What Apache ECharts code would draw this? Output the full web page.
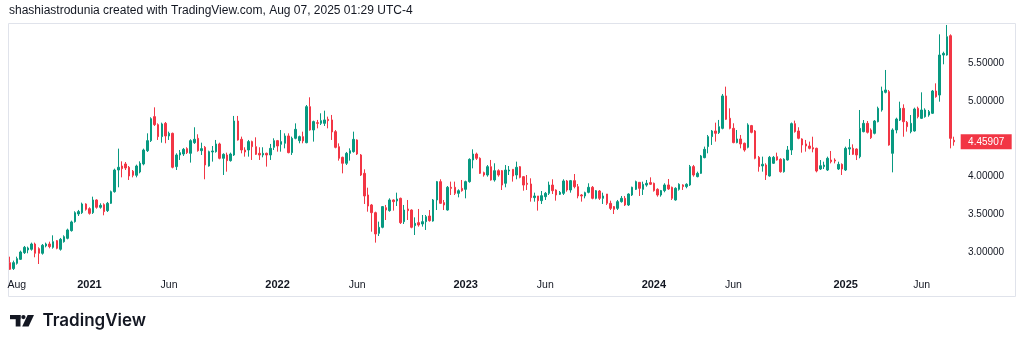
<!DOCTYPE html>
<html><head><meta charset="utf-8">
<script src="https://cdn.jsdelivr.net/npm/echarts@6/dist/echarts.min.js"></script>
<style>html,body{margin:0;padding:0;background:#fff}#c{width:1024px;height:348px}</style>
</head><body><div id="c"></div>
<script>
// Weekly candles, each [open, close, low, high]
const c2020 = [
[2.859,2.771,2.762,2.938],[2.780,2.859,2.762,2.886],[2.850,2.912,2.833,2.938],[2.903,3.000,2.894,3.018],
[2.991,3.062,2.974,3.080],[3.027,3.053,2.983,3.071],[3.036,3.106,3.018,3.124],[3.106,2.983,2.930,3.124],
[3.044,2.983,2.841,3.062],[2.983,3.089,2.965,3.106],[3.080,3.106,3.062,3.124],[3.106,3.071,3.049,3.137],
[3.062,3.137,3.044,3.221],[3.150,3.049,3.036,3.159],[3.036,3.168,3.018,3.186],[3.137,3.203,3.124,3.221],
[3.181,3.292,3.168,3.309],[3.283,3.398,3.270,3.415],[3.402,3.521,3.389,3.539],[3.504,3.535,3.477,3.557],
[3.521,3.636,3.504,3.654],[3.636,3.565,3.548,3.645]
];
const c2021 = [
[3.574,3.512,3.495,3.592],[3.521,3.689,3.504,3.733],[3.689,3.592,3.574,3.698],[3.592,3.618,3.574,3.645],
[3.627,3.535,3.486,3.645],[3.548,3.645,3.530,3.663],[3.645,3.799,3.636,3.813],[3.799,4.086,3.786,4.104],
[4.086,4.122,3.857,4.369],[4.139,4.104,3.989,4.201],[4.166,4.113,4.086,4.192],[4.122,4.007,3.954,4.139],
[4.069,4.016,3.989,4.086],[4.016,4.139,3.989,4.157],[4.060,4.175,4.042,4.201],[4.166,4.351,4.148,4.369],
[4.342,4.475,4.325,4.572],[4.475,4.766,4.457,4.784],[4.793,4.687,4.669,4.916],[4.687,4.528,4.484,4.704],
[4.528,4.696,4.448,4.713],[4.704,4.537,4.440,4.722],[4.537,4.572,4.484,4.594],[4.572,4.122,4.108,4.581],
[4.131,4.285,4.086,4.307],[4.285,4.316,4.219,4.351],[4.298,4.360,4.272,4.378],[4.369,4.316,4.298,4.387],
[4.307,4.475,4.184,4.493],[4.448,4.493,4.431,4.652],[4.506,4.342,4.329,4.559],[4.342,4.369,4.285,4.448],
[4.387,4.153,3.963,4.404],[4.139,4.329,4.131,4.342],[4.325,4.338,4.197,4.404],[4.329,4.431,4.316,4.484],
[4.431,4.241,4.228,4.448],[4.241,4.294,4.020,4.307],[4.285,4.210,4.064,4.316],[4.210,4.298,4.197,4.316],
[4.285,4.735,4.272,4.802],[4.735,4.484,4.475,4.802],[4.493,4.351,4.307,4.528],[4.351,4.325,4.263,4.387],
[4.351,4.462,4.263,4.484],[4.462,4.395,4.219,4.475],[4.395,4.294,4.285,4.519],[4.307,4.285,4.219,4.387],
[4.285,4.307,4.254,4.387],[4.307,4.285,4.131,4.316],[4.285,4.373,4.219,4.431],[4.387,4.475,4.351,4.506]
];
const c2022 = [
[4.475,4.404,4.329,4.484],[4.426,4.462,4.329,4.616],[4.440,4.537,4.373,4.572],[4.537,4.316,4.307,4.572],
[4.316,4.506,4.285,4.528],[4.506,4.625,4.493,4.704],[4.475,4.528,4.440,4.541],[4.528,4.471,4.440,4.594],
[4.448,4.925,4.440,4.947],[4.925,4.616,4.607,5.049],[4.616,4.727,4.462,4.740],[4.713,4.704,4.638,4.749],
[4.704,4.740,4.682,4.837],[4.704,4.749,4.669,4.872],[4.757,4.740,4.638,4.793],[4.749,4.590,4.484,4.815],
[4.594,4.386,4.373,4.616],[4.395,4.241,4.210,4.439],[4.254,4.175,4.042,4.263],[4.175,4.307,4.152,4.325],
[4.307,4.342,4.210,4.373],[4.329,4.492,4.316,4.594],[4.484,4.298,4.285,4.492],[4.285,4.020,4.007,4.298],
[4.042,3.742,3.636,4.095],[3.755,3.609,3.534,3.852],[3.623,3.521,3.269,3.636],[3.521,3.239,3.124,3.534],
[3.247,3.327,3.212,3.402],[3.327,3.601,3.314,3.609],[3.587,3.556,3.424,3.623],[3.548,3.689,3.534,3.711],
[3.689,3.667,3.548,3.698],[3.676,3.702,3.609,3.786],[3.711,3.389,3.371,3.720],[3.402,3.556,3.371,3.623],
[3.570,3.548,3.424,3.689],[3.556,3.327,3.314,3.565],[3.349,3.380,3.225,3.459],[3.389,3.358,3.336,3.570],
[3.371,3.402,3.336,3.490],[3.402,3.468,3.292,3.490],[3.477,3.415,3.402,3.556],[3.410,3.689,3.402,3.702],
[3.689,3.932,3.556,3.941],[3.932,3.645,3.636,3.963],[3.654,3.623,3.556,3.689],[3.556,3.857,3.548,3.874],
[3.857,3.843,3.755,3.932],[3.857,3.777,3.755,3.932],[3.777,3.812,3.724,3.830],[3.843,3.812,3.799,3.954]
];
const c2023 = [
[3.830,3.932,3.711,3.945],[3.932,4.227,3.918,4.241],[4.219,4.298,4.108,4.360],[4.298,4.241,4.219,4.316],
[4.241,4.042,4.033,4.254],[4.051,4.020,3.998,4.064],[4.020,4.130,3.998,4.152],[4.130,3.954,3.945,4.219],
[3.954,4.077,3.932,4.175],[4.077,4.020,3.998,4.095],[4.077,3.887,3.821,4.086],[3.910,4.086,3.857,4.152],
[4.073,4.086,4.020,4.139],[4.095,4.007,3.932,4.095],[4.020,4.122,3.963,4.197],[4.130,3.989,3.976,4.139],
[3.998,3.887,3.812,4.007],[3.910,3.896,3.821,4.020],[3.901,3.720,3.667,3.976],[3.720,3.742,3.667,3.786],
[3.742,3.680,3.548,3.742],[3.680,3.746,3.636,3.808],[3.733,3.777,3.689,3.795],[3.777,3.887,3.755,3.932],
[3.887,3.812,3.768,3.963],[3.821,3.755,3.680,3.830],[3.764,3.790,3.755,3.808],[3.777,3.941,3.755,3.963],
[3.941,3.821,3.799,3.954],[3.821,3.945,3.786,3.954],[3.945,3.865,3.843,4.033],[3.865,3.742,3.711,3.901],
[3.755,3.742,3.667,3.768],[3.742,3.786,3.711,3.799],[3.790,3.857,3.777,3.910],[3.857,3.711,3.698,3.874],
[3.711,3.812,3.698,3.821],[3.808,3.711,3.689,3.821],[3.711,3.742,3.636,3.786],[3.768,3.645,3.623,3.768],
[3.645,3.578,3.556,3.680],[3.601,3.565,3.503,3.609],[3.578,3.667,3.556,3.689],[3.667,3.711,3.654,3.742],
[3.711,3.623,3.609,3.742],[3.623,3.768,3.609,3.777],[3.755,3.857,3.742,3.865],[3.830,3.932,3.821,3.945],
[3.923,3.843,3.742,3.923],[3.830,3.896,3.755,3.932],[3.887,3.910,3.865,3.954],[3.919,3.897,3.888,3.989]
];
const c2024 = [
[3.910,3.813,3.800,3.919],[3.830,3.755,3.733,3.844],[3.755,3.813,3.733,3.822],[3.813,3.888,3.791,3.910],
[3.888,3.835,3.822,3.967],[3.857,3.711,3.689,3.866],[3.689,3.844,3.680,3.857],[3.830,3.897,3.813,3.910],
[3.888,3.866,3.822,3.897],[3.866,3.897,3.844,3.910],[3.888,4.131,3.875,4.153],[4.131,4.020,3.998,4.153],
[3.998,4.042,3.989,4.064],[4.042,4.272,4.034,4.285],[4.250,4.360,4.241,4.396],[4.396,4.528,4.307,4.550],
[4.528,4.603,4.418,4.616],[4.603,4.572,4.462,4.713],[4.581,4.660,4.563,4.749],[4.638,5.067,4.625,5.093],
[5.067,4.758,4.749,5.190],[4.771,4.638,4.625,4.903],[4.638,4.449,4.440,4.705],[4.449,4.497,4.440,4.616],
[4.497,4.431,4.373,4.550],[4.440,4.351,4.329,4.449],[4.387,4.683,4.373,4.705],[4.674,4.585,4.572,4.683],
[4.603,4.241,4.228,4.616],[4.254,4.131,4.064,4.272],[4.140,4.162,4.064,4.263],[4.153,4.020,3.954,4.175],
[4.007,4.254,3.998,4.272],[4.175,4.254,4.166,4.272],[4.263,4.219,4.210,4.316],[4.228,4.064,4.051,4.241],
[4.064,4.228,4.051,4.241],[4.219,4.351,4.210,4.404],[4.351,4.700,4.285,4.715],[4.700,4.594,4.581,4.740],
[4.603,4.506,4.493,4.652],[4.497,4.418,4.316,4.506],[4.431,4.404,4.329,4.484],[4.404,4.373,4.360,4.462],
[4.382,4.364,4.320,4.527],[4.373,4.073,4.055,4.382],[4.099,4.143,4.086,4.218],[4.130,4.152,4.099,4.196],
[4.086,4.241,4.073,4.263],[4.218,4.196,4.174,4.338],[4.218,4.205,4.174,4.241],[4.099,4.161,4.086,4.196],
[4.161,4.099,4.020,4.174]
];
const c2025 = [
[4.086,4.373,4.073,4.395],[4.364,4.382,4.285,4.497],[4.373,4.294,4.285,4.426],[4.364,4.285,4.218,4.373],
[4.263,4.638,4.241,4.881],[4.594,4.704,4.585,4.748],[4.704,4.585,4.570,4.735],[4.616,4.514,4.497,4.638],
[4.572,4.735,4.558,4.748],[4.726,4.903,4.717,4.925],[4.881,5.132,4.859,5.190],[5.115,5.146,5.101,5.411],
[5.124,4.417,4.408,5.146],[4.307,4.616,4.055,4.638],[4.616,4.761,4.572,4.779],[4.748,4.903,4.735,4.991],
[4.903,4.726,4.527,4.956],[4.717,4.660,4.594,4.735],[4.594,4.704,4.572,4.814],[4.603,4.894,4.594,4.912],
[4.903,4.792,4.770,4.925],[4.770,4.881,4.761,5.115],[4.792,4.881,4.779,4.903],[4.814,4.859,4.792,4.881],
[4.837,5.132,4.828,5.146],[5.132,5.057,5.044,5.234],[5.079,5.609,4.991,5.883],[5.609,5.631,5.486,5.653],
[5.609,5.852,5.600,6.007],[5.865,4.505,4.373,5.883],[4.480,4.45907,4.408,4.527]
];
const lastPrice = 4.45907;
const priceTicks = {min: 2.5, max: 6.0, step: 0.5};
const hiddenPriceLabels = [2.5, 4.5, 6.0];
const monthNames = ['Jan','Feb','Mar','Apr','May','Jun','Jul','Aug','Sep','Oct','Nov','Dec'];
const headerText = 'shashiastrodunia created with TradingView.com, Aug 07, 2025 01:29 UTC-4';

const candles = [].concat(c2020, c2021, c2022, c2023, c2024, c2025);
const categories = candles.map((_, i) => new Date(Date.UTC(2020, 7, 3) + i * 7 * 864e5).toISOString().slice(0, 10));

function showLabel(index, value) {
  const m = +value.slice(5, 7), d = +value.slice(8, 10);
  return index === 0 || ((m === 1 || m === 6) && d <= 7);
}

const chart = echarts.init(document.getElementById('c'), null, {renderer: 'canvas'});
chart.setOption({
  animation: false,
  backgroundColor: '#ffffff',
  textStyle: {fontFamily: 'Liberation Sans'},
  grid: {left: 8, right: 68, top: 25.5, bottom: 58.25},
  xAxis: {
    type: 'category', data: categories, boundaryGap: true, offset: -12,
    axisLine: {show: false}, axisTick: {show: false}, splitLine: {show: false},
    axisLabel: {
      margin: 2, interval: showLabel, color: '#131722', fontSize: 11,
      formatter: function (value, index) {
        const m = +value.slice(5, 7);
        if (index === 0) return '{first|' + monthNames[m - 1] + '}';
        if (m === 1) return '{yr|' + value.slice(0, 4) + '}';
        return '{mo|' + monthNames[m - 1] + '}';
      },
      rich: {
        first: {fontSize: 10.5, color: '#131722', padding: [0, 0, 0, 14]},
        mo: {fontSize: 10.5, color: '#131722'},
        yr: {fontSize: 11, fontWeight: 'bold', color: '#131722'}
      }
    }
  },
  yAxis: {
    type: 'value', position: 'right',
    min: priceTicks.min, max: priceTicks.max, interval: priceTicks.step,
    axisLine: {show: false}, axisTick: {show: false}, splitLine: {show: false},
    axisLabel: {
      margin: 12, fontSize: 10, color: '#131722',
      formatter: function (v) {
        return hiddenPriceLabels.some(h => Math.abs(h - v) < 1e-6) ? '' : v.toFixed(5);
      }
    }
  },
  series: [{
    type: 'candlestick',
    data: candles,
    barWidth: 2,
    clip: false,
    itemStyle: {color: '#089981', color0: '#f23645', borderColor: '#089981', borderColor0: '#f23645', borderWidth: 1},
    markPoint: {
      symbol: 'rect', symbolSize: [51, 15], symbolOffset: [32, 0],
      itemStyle: {color: '#f23645'},
      label: {show: true, position: 'inside', color: '#ffffff', fontSize: 10, fontWeight: 500,
        formatter: function (p) { return Number(p.value).toFixed(5); }},
      data: [{coord: [categories.length - 1, lastPrice], value: lastPrice}]
    }
  }],
  graphic: [
    {type: 'rect', silent: true, z: -10, shape: {x: 8.5, y: 23.5, width: 1007, height: 273},
      style: {fill: 'none', stroke: '#e0e3eb', lineWidth: 1}},
    {type: 'text', left: 9, top: 5, silent: true,
      style: {text: headerText, fontSize: 12, fill: '#131722', fontFamily: 'Liberation Sans'}},
    {type: 'group', silent: true, children: [
      {type: 'rect', shape: {x: 10, y: 315, width: 10.5, height: 4.2}, style: {fill: '#131722'}},
      {type: 'rect', shape: {x: 15.7, y: 315, width: 4.8, height: 11.5}, style: {fill: '#131722'}},
      {type: 'circle', shape: {cx: 23.4, cy: 317.1, r: 2.15}, style: {fill: '#131722'}},
      {type: 'polygon', shape: {points: [[27.6, 315], [34, 315], [28.6, 326.5], [22.2, 326.5]]}, style: {fill: '#131722'}},
      {type: 'text', x: 42.5, y: 321, style: {text: 'TradingView', fontSize: 17, fontWeight: 600, fontFamily: 'Inter',
        fill: '#131722', textVerticalAlign: 'middle'}}
    ]}
  ]
});
</script>
</body></html>
